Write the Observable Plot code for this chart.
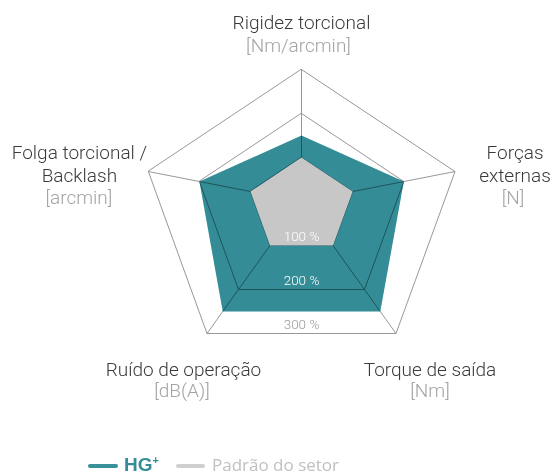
<!DOCTYPE html>
<html><head><meta charset="utf-8">
<script src="https://cdn.jsdelivr.net/npm/d3@7"></script>
<script src="https://cdn.jsdelivr.net/npm/@observablehq/plot@0.6"></script>
<style>
html,body{margin:0;padding:0;background:#fff;}
#wrap{width:554px;}
#legend{position:relative;width:554px;height:28px;}
#legend .ln{position:absolute;top:16px;height:4px;border-radius:2px;}
#legend .tx{position:absolute;top:7px;line-height:20px;white-space:nowrap;}
</style></head><body><div id="wrap"><div id="chart"></div><div id="legend"></div></div>
<script>
// ---- data ----
const axisNames = ["Rigidez torcional", "Forças\nexternas", "Torque de saída", "Ruído de operação", "Folga torcional /\nBacklash"];
const axisUnits = ["[Nm/arcmin]", "[N]", "[Nm]", "[dB(A)]", "[arcmin]"];
const hgValues = [150, 200, 250, 250, 200];
const industryValues = [100, 100, 100, 100, 100];
const gridLevels = [100, 200, 300];
const gridLabels = ["100 %", "200 %", "300 %"];
const seriesNames = ["HG+", "Padrão do setor"];

// ---- layout (geometry of the pentagon axes, units per 100 %) ----
const dirs = [[0, 1], [1.163, 0.227], [0.716, -1], [-0.716, -1], [-1.16, 0.227]];
const W = 554, H = 448, cx = 301, cy = 201, unit = 44;
const pt = (i, v) => ({x: dirs[i][0] * v / 100, y: dirs[i][1] * v / 100});

const teal = "#338c96", gray = "#c6c7c6";

const gridData = gridLevels.flatMap(l => axisNames.map((_, i) => ({level: l, ...pt(i, l)})));
const spokes = axisNames.map((_, i) => ({x1: 0, y1: 0, x2: pt(i, 300).x, y2: pt(i, 300).y}));
const hgData = hgValues.map((v, i) => pt(i, v));
const indData = industryValues.map((v, i) => pt(i, v));
const gridLabelData = gridLevels.map((l, k) => ({x: 0, y: pt(2, l).y, label: gridLabels[k], c: k < 2 ? "#ffffff" : "#9a9a9a"}));

const labelOff = [
  {name: [0, -48], unit: [-3, -24]},
  {name: [60, -8.5], unit: [58, 26]},
  {name: [34, 35], unit: [34, 57]},
  {name: [-23.5, 35], unit: [-25, 57]},
  {name: [-69, -8.5], unit: [-69.5, 26]}
];
const font = "Roboto, 'Helvetica Neue', Arial, sans-serif";
const fs = 19;
const labelMarks = axisNames.flatMap((n, i) => {
  const p = pt(i, 300);
  return [
    Plot.text([{...p, t: n}], {x: "x", y: "y", text: "t", dx: labelOff[i].name[0], dy: labelOff[i].name[1],
      fill: "#3a3a3a", fontSize: fs, fontWeight: 300, lineHeight: 23 / fs, textAnchor: "middle", lineAnchor: "middle"}),
    Plot.text([{...p, t: axisUnits[i]}], {x: "x", y: "y", text: "t", dx: labelOff[i].unit[0], dy: labelOff[i].unit[1],
      fill: "#a3a3a3", fontSize: fs, fontWeight: 300, textAnchor: "middle", lineAnchor: "middle"})
  ];
});

const chart = Plot.plot({
  width: W, height: H,
  margin: 0,
  style: {fontFamily: font, background: "#fff"},
  x: {domain: [-cx / unit, (W - cx) / unit], range: [0, W], axis: null},
  y: {domain: [(cy - H) / unit, cy / unit], range: [H, 0], axis: null},
  marks: [
    Plot.line(gridData, {x: "x", y: "y", z: "level", curve: "linear-closed", stroke: "#8c8c8c", strokeWidth: 0.9}),
    Plot.link(spokes, {x1: "x1", y1: "y1", x2: "x2", y2: "y2", stroke: "#8c8c8c", strokeWidth: 0.9}),
    Plot.line(hgData, {x: "x", y: "y", curve: "linear-closed", fill: teal, stroke: "none", mixBlendMode: "multiply"}),
    Plot.line(indData, {x: "x", y: "y", curve: "linear-closed", fill: gray, stroke: "none"}),
    Plot.text(gridLabelData, {x: "x", y: "y", text: "label", fill: "c", dy: -8.5, fontSize: 13.5, fontWeight: 300, lineAnchor: "middle"}),
    ...labelMarks
  ]
});
document.getElementById("chart").appendChild(chart);

// ---- legend ----
const lg = document.getElementById("legend");
lg.innerHTML =
  `<div class="ln" style="left:88px;width:30px;background:#3a9099"></div>` +
  `<div class="tx" style="left:124px;font-size:19px;font-family:'Liberation Sans',Arial,sans-serif;font-weight:bold;color:#338c96">${seriesNames[0].replace("+", "")}<span style="font-size:11px;position:relative;top:-7px">+</span></div>` +
  `<div class="ln" style="left:176px;width:29px;background:#cfcfcf"></div>` +
  `<div class="tx" style="left:212px;font-size:17px;font-family:'Open Sans',sans-serif;color:#c0c0c0">${seriesNames[1]}</div>`;
</script>
</body></html>
